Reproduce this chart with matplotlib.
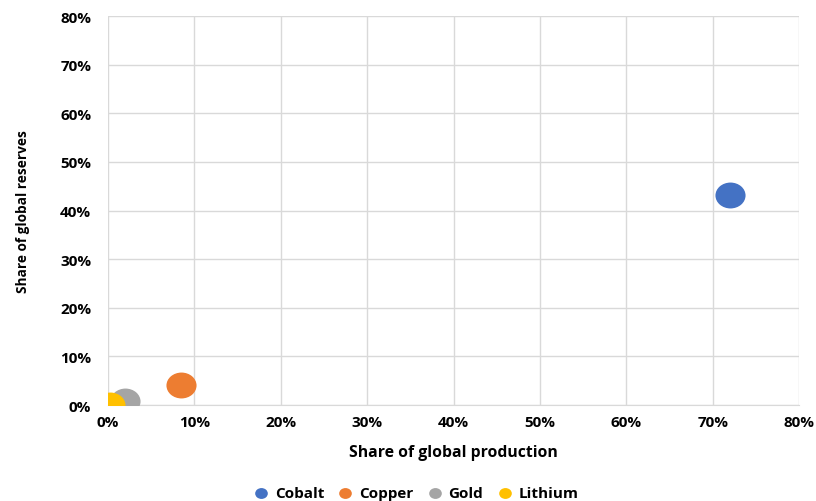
import matplotlib.pyplot as plt
from matplotlib.path import Path
from matplotlib.ticker import PercentFormatter

minerals = ["Cobalt", "Copper", "Gold", "Lithium"]
production_share = [72.0, 8.5, 2.0, 0.2]   # % of global production
reserves_share = [43.2, 4.1, 0.9, 0.1]     # % of global reserves
colors = ["#4472C4", "#ED7D31", "#A5A5A5", "#FFC000"]

plt.rcParams['font.family'] = ['Open Sans', 'DejaVu Sans']

# slightly flattened bubble, like the Excel original
circ = Path.unit_circle()
bubble = Path(circ.vertices * [1.0, 0.86], circ.codes)

fig = plt.figure(figsize=(8.16, 5.02), dpi=100)
ax = fig.add_axes([0.1324, 0.191, 0.8468, 0.775])

for name, x, y, c in zip(minerals, production_share, reserves_share, colors):
    ax.scatter(x, y, s=470, marker=bubble, color=c, label=name, zorder=3,
               linewidths=0)  # clipped at the plot edge

ax.set_xlim(0, 80)
ax.set_ylim(0, 80)
ax.set_xticks(range(0, 81, 10))
ax.set_yticks(range(0, 81, 10))
ax.xaxis.set_major_formatter(PercentFormatter(decimals=0))
ax.yaxis.set_major_formatter(PercentFormatter(decimals=0))
ax.grid(True, color="#d9d9d9", linewidth=1)
ax.set_axisbelow(True)
for s in ax.spines.values():
    s.set_visible(False)
ax.spines['bottom'].set_visible(True)
ax.spines['bottom'].set_color("#d9d9d9")
ax.tick_params(axis='y', length=0, labelsize=11, pad=12)
ax.tick_params(axis='x', length=0, labelsize=11, pad=7)
for lbl in ax.get_xticklabels() + ax.get_yticklabels():
    lbl.set_fontweight('bold')

ax.set_xlabel("Share of global production", fontsize=11.3, fontweight='bold', labelpad=11)
ax.set_ylabel("Share of global reserves", fontsize=9.8, fontweight='bold', labelpad=22)

leg = fig.legend(loc='lower center', ncol=4, frameon=False, bbox_to_anchor=(0.505, -0.025),
                 prop={'weight': 'bold', 'size': 11}, handletextpad=-0.1, columnspacing=0.4,
                 markerscale=0.42)

fig.savefig("out.png", dpi=100)
